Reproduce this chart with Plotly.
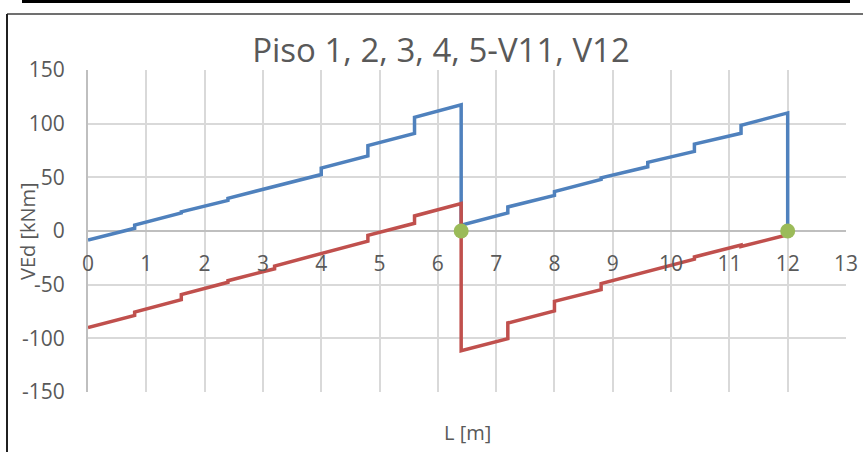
import plotly.graph_objects as go

# Stations along the beam [m]
station_x = [0, 0.8, 0.8, 1.6, 1.6, 2.4, 2.4, 3.2, 3.2, 4.0, 4.0, 4.8, 4.8, 5.6, 5.6,
             6.4, 6.4, 7.2, 7.2, 8.0, 8.0, 8.8, 8.8, 9.6, 9.6, 10.4, 10.4, 11.2, 11.2,
             12.0, 12.0]

# Shear envelope values [kN]
vmax_values = [-8.5, 2.5, 5.6, 16.8, 17.8, 28.5, 30.5, 41.2, 42.0, 52.6, 58.7, 70.0,
               79.5, 91.0, 106.0, 117.5, 5.3, 16.8, 22.4, 33.2, 36.8, 48.0, 49.5, 59.8,
               64.0, 74.2, 81.0, 91.0, 98.5, 110.0, 0.0]
vmin_values = [-90.0, -78.6, -75.5, -64.0, -59.3, -47.8, -46.3, -35.2, -32.6, -21.2,
               -20.8, -9.4, -4.0, 7.2, 14.0, 25.5, -111.5, -100.3, -85.7, -74.5, -65.5,
               -54.6, -49.0, -37.8, -37.0, -26.2, -24.2, -13.0, -14.5, -3.5]

# Supports
support_x = [6.4, 12.0]
support_v = [0, 0]

x_ticks = list(range(0, 14))
y_ticks = [-150, -100, -50, 0, 50, 100, 150]

TXT = "#595959"
FONT = "Open Sans"

fig = go.Figure()
fig.add_trace(go.Scatter(x=station_x, y=vmax_values, mode="lines",
                         line=dict(color="#4f81bd", width=3.5), name="Vmax"))
fig.add_trace(go.Scatter(x=station_x[:len(vmin_values)], y=vmin_values, mode="lines",
                         line=dict(color="#c0504d", width=3.5), name="Vmin"))
fig.add_trace(go.Scatter(x=support_x, y=support_v, mode="markers",
                         marker=dict(color="#9bbb59", size=15), name="Apoyos"))

L, R, T, B = 88, 846, 70, 392
W, H = 863, 452

def px(x):
    return (x - L) / (R - L)

def py(y):
    return (B - y) / (B - T)

fig.update_layout(
    width=W, height=H,
    margin=dict(l=L, r=W - R, t=T, b=H - B, autoexpand=False),
    paper_bgcolor="white", plot_bgcolor="white",
    showlegend=False,
    font=dict(family=FONT, color=TXT),
    title=dict(text="Piso 1, 2, 3, 4, 5-V11, V12", x=441 / W, xanchor="center",
               y=1 - 50 / H, yanchor="middle",
               font=dict(family=FONT, size=33, color=TXT)),
    xaxis=dict(range=[0, 13], tickvals=x_ticks, ticktext=[str(v) for v in x_ticks],
               showgrid=True, gridcolor="#d9d9d9", gridwidth=1.5,
               zeroline=False, showline=False, automargin=False,
               anchor="free", position=0.5,
               ticks="outside", ticklen=14, tickcolor="rgba(0,0,0,0)",
               tickfont=dict(family=FONT, size=21, color=TXT)),
    yaxis=dict(range=[-150, 150], tickvals=y_ticks, ticktext=[str(v) for v in y_ticks],
               showgrid=True, gridcolor="#d9d9d9", gridwidth=1.5,
               zeroline=True, zerolinecolor="#bfbfbf", zerolinewidth=2,
               showline=True, linecolor="#bfbfbf", linewidth=2, automargin=False,
               ticks="outside", ticklen=17, tickcolor="rgba(0,0,0,0)",
               tickfont=dict(family=FONT, size=21, color=TXT)),
    annotations=[
        dict(text="VEd [kNm]", x=px(27), y=0.5, xref="paper", yref="paper",
             textangle=-90, showarrow=False, xanchor="center", yanchor="middle",
             font=dict(family=FONT, size=20, color=TXT)),
        dict(text="L [m]", x=0.5, y=py(432), xref="paper", yref="paper",
             showarrow=False, xanchor="center", yanchor="middle",
             font=dict(family=FONT, size=20, color=TXT)),
    ],
    shapes=[
        dict(type="line", xref="paper", yref="paper", x0=px(22), x1=px(850),
             y0=py(1.5), y1=py(1.5), line=dict(color="black", width=3)),
        dict(type="line", xref="paper", yref="paper", x0=px(7), x1=px(870),
             y0=py(14), y1=py(14), line=dict(color="#404040", width=1.5)),
        dict(type="line", xref="paper", yref="paper", x0=px(7), x1=px(7),
             y0=py(14), y1=py(460), line=dict(color="#202020", width=2)),
    ],
)

fig.write_html("out.html", config={"displayModeBar": False},
               post_script="document.body.style.margin='0';document.body.style.padding='0';")
